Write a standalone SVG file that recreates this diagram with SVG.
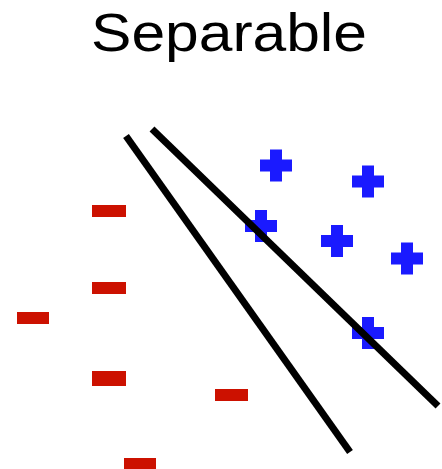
<svg xmlns="http://www.w3.org/2000/svg" width="442" height="469" viewBox="0 0 442 469">
<style>
.title{font-family:"Liberation Sans",Arial,sans-serif;font-size:54px;fill:#000}
.neg{fill:#cc1100}
.pos{fill:#1a1aff}
.sep{stroke:#000;stroke-width:7;stroke-linecap:butt;fill:none}
</style>
<defs>
<path id="plus" d="M-6,-16h12v10h10v12h-10v10h-12v-10h-10v-12h10z"/>
</defs>
<rect width="442" height="469" fill="#fff"/>
<text id="title" class="title" x="91" y="51" textLength="276" lengthAdjust="spacingAndGlyphs">Separable</text>
<g id="negatives" class="neg">
<rect id="n1" x="92" y="205" width="34" height="12"/>
<rect id="n2" x="92" y="282" width="34" height="12"/>
<rect id="n3" x="17" y="312" width="32" height="12"/>
<rect id="n4" x="92" y="371" width="34" height="15"/>
<rect id="n5" x="215" y="389" width="33" height="12"/>
<rect id="n6" x="124" y="458" width="32" height="12"/>
</g>
<g id="positives" class="pos">
<use id="p1" href="#plus" x="276" y="165.5"/>
<use id="p2" href="#plus" x="368" y="181.5"/>
<use id="p3" href="#plus" x="261" y="226"/>
<use id="p4" href="#plus" x="337" y="241"/>
<use id="p5" href="#plus" x="407" y="258.5"/>
<use id="p6" href="#plus" x="368" y="333"/>
</g>
<g id="connectors">
<line class="sep" x1="126" y1="136" x2="350" y2="452"/>
<line class="sep" x1="152" y1="129" x2="438" y2="406"/>
</g>
</svg>
